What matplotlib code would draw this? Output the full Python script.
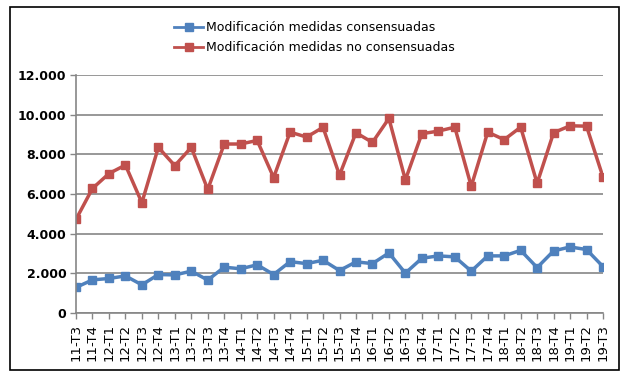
import matplotlib
matplotlib.use("Agg")
import matplotlib.pyplot as plt
from matplotlib.patches import Rectangle

# trimestres
periodos = ["11-T3", "11-T4", "12-T1", "12-T2", "12-T3", "12-T4", "13-T1", "13-T2",
            "13-T3", "13-T4", "14-T1", "14-T2", "14-T3", "14-T4", "15-T1", "15-T2",
            "15-T3", "15-T4", "16-T1", "16-T2", "16-T3", "16-T4", "17-T1", "17-T2",
            "17-T3", "17-T4", "18-T1", "18-T2", "18-T3", "18-T4", "19-T1", "19-T2",
            "19-T3"]

consensuadas = [1290, 1670, 1740, 1870, 1420, 1940, 1920, 2110, 1660, 2310, 2230,
                2430, 1940, 2590, 2490, 2660, 2140, 2580, 2490, 3030, 2010, 2760,
                2880, 2830, 2110, 2880, 2880, 3160, 2290, 3130, 3330, 3200, 2340]

no_consensuadas = [4720, 6280, 7030, 7460, 5560, 8350, 7430, 8350, 6230, 8520, 8520,
                   8700, 6830, 9120, 8870, 9360, 6950, 9090, 8600, 9810, 6710, 9040,
                   9170, 9370, 6390, 9120, 8740, 9370, 6540, 9090, 9440, 9420, 6850]

etiquetas = ["Modificación medidas consensuadas", "Modificación medidas no consensuadas"]

azul = "#4F81BD"
rojo = "#C0504D"
gris = "#868686"

fig = plt.figure(figsize=(6.25, 3.8), dpi=100)
ax = fig.add_axes([76 / 625, 67 / 380, 527 / 625, 238 / 380])

x = list(range(len(periodos)))
ax.plot(x, consensuadas, color=azul, lw=2.5, marker="s", ms=6, label=etiquetas[0])
ax.plot(x, no_consensuadas, color=rojo, lw=2.5, marker="s", ms=6, label=etiquetas[1])

ax.set_xlim(0, len(periodos) - 1)
ax.set_ylim(0, 12000)
ax.set_yticks(range(0, 12001, 2000))
ax.set_yticklabels([f"{v:,}".replace(",", ".") for v in range(0, 12001, 2000)],
                   fontsize=9, fontweight="bold")
ax.set_xticks(x)
ax.set_xticklabels(periodos, rotation=90, fontsize=9.5)
ax.grid(axis="y", color=gris, lw=1.2)
ax.set_axisbelow(True)
for side in ["top", "right"]:
    ax.spines[side].set_visible(False)
for side in ["left", "bottom"]:
    ax.spines[side].set_color(gris)
    ax.spines[side].set_linewidth(1.2)
ax.tick_params(axis="both", color=gris, length=4, width=1, pad=3)
ax.tick_params(axis="x", pad=4)

leg = fig.legend(loc="upper left", bbox_to_anchor=(168 / 625, 1 - 15 / 380),
                 frameon=False, fontsize=9, handlelength=2.3, handletextpad=0.2,
                 labelspacing=0.55, borderpad=0)
for linea in leg.get_lines():
    linea.set_linewidth(2)

fig.patches.append(Rectangle((10 / 625, 10 / 380), 609 / 625, 363 / 380,
                             transform=fig.transFigure, fill=False,
                             edgecolor="black", lw=1.2))

fig.savefig("out.png", dpi=100)
